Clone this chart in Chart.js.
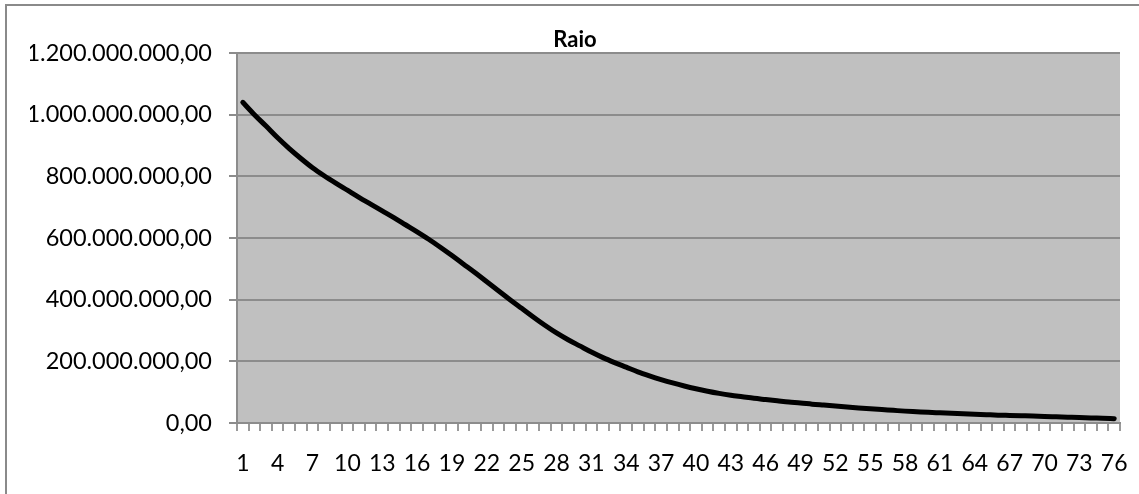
<!DOCTYPE html>
<html>
<head>
<meta charset="utf-8">
<title>Raio</title>
<script src="https://cdn.jsdelivr.net/npm/chart.js@4/dist/chart.umd.min.js"></script>
<style>
  html, body { margin: 0; padding: 0; background: #ffffff; }
  canvas { display: block; }
</style>
</head>
<body>
<canvas id="chart" width="1139" height="494"></canvas>
<script>
// Categories 1..76
const categories = [
  1, 2, 3, 4, 5, 6, 7, 8, 9, 10, 11, 12, 13, 14, 15, 16, 17, 18, 19, 20,
  21, 22, 23, 24, 25, 26, 27, 28, 29, 30, 31, 32, 33, 34, 35, 36, 37, 38, 39, 40,
  41, 42, 43, 44, 45, 46, 47, 48, 49, 50, 51, 52, 53, 54, 55, 56, 57, 58, 59, 60,
  61, 62, 63, 64, 65, 66, 67, 68, 69, 70, 71, 72, 73, 74, 75, 76
];

// Raio, in millions
const raioMillions = [
  1040, 1000, 963, 925, 890, 858, 828, 802, 778, 755,
  732, 710, 688, 666, 643, 620, 596, 570, 543, 515,
  487, 458, 429, 400, 372, 344, 317, 292, 270, 250,
  230, 212, 196, 181, 166, 153, 141, 130, 120, 111,
  103, 96, 90, 85, 80, 76, 72, 68, 65, 61,
  58, 55, 52, 49, 46, 43.5, 41, 38.5, 36.5, 34.5,
  33, 31.5, 30, 28.5, 27, 25.5, 24.5, 23.5, 22.5, 21,
  20, 19, 18, 16.5, 15.5, 14
];

// Y axis ticks
const yTicks = [0, 200000000, 400000000, 600000000, 800000000, 1000000000, 1200000000];

const raio = raioMillions.map(v => v * 1e6);

// Brazilian number format: 1.200.000.000,00
function formatBR(v) {
  const fixed = Math.round(v * 100) / 100;
  const parts = fixed.toFixed(2).split('.');
  const intPart = parts[0].replace(/\B(?=(\d{3})+(?!\d))/g, '.');
  return intPart + ',' + parts[1];
}

const FONT = 'Lato, "Open Sans", sans-serif';
const GRID = '#8c8c8c';

// White page with a grey frame round the chart
const framePlugin = {
  id: 'frame',
  beforeDraw(chart) {
    const ctx = chart.ctx;
    ctx.save();
    ctx.fillStyle = '#ffffff';
    ctx.fillRect(0, 0, chart.width, chart.height);
    ctx.strokeStyle = '#8a8a8a';
    ctx.lineWidth = 2;
    ctx.strokeRect(6, 5, chart.width + 20, chart.height + 20);
    ctx.restore();
  }
};

// Grey plot background
const plotBgPlugin = {
  id: 'plotBg',
  beforeDraw(chart) {
    const a = chart.chartArea;
    const ctx = chart.ctx;
    ctx.save();
    ctx.fillStyle = '#c0c0c0';
    ctx.fillRect(a.left, a.top, a.right - a.left, a.bottom - a.top);
    ctx.restore();
  }
};

new Chart(document.getElementById('chart'), {
  type: 'line',
  data: {
    labels: categories,
    datasets: [{
      label: 'Raio',
      data: raio,
      borderColor: '#000000',
      borderWidth: 5,
      borderCapStyle: 'round',
      borderJoinStyle: 'round',
      pointRadius: 0,
      fill: false,
      cubicInterpolationMode: 'monotone'
    }]
  },
  options: {
    responsive: false,
    animation: false,
    devicePixelRatio: 1,
    layout: { padding: { left: 30, right: 19, top: 0, bottom: 0 } },
    plugins: {
      legend: { display: false },
      tooltip: { enabled: false },
      title: {
        display: true,
        text: 'Raio',
        color: '#000000',
        font: { family: FONT, size: 22, weight: 'bold', lineHeight: 1.2 },
        padding: { top: 26.6, bottom: 0 }
      }
    },
    scales: {
      x: {
        type: 'category',
        offset: true,
        grid: {
          display: true,
          offset: true,
          drawOnChartArea: false,
          drawTicks: true,
          tickLength: 8,
          color: '#9a9a9a',
          lineWidth: 2
        },
        border: { display: true, color: GRID, width: 2 },
        ticks: {
          autoSkip: false,
          maxRotation: 0,
          minRotation: 0,
          padding: 19,
          color: '#000000',
          font: { family: FONT, size: 23 },
          callback: function (value, index) {
            return index % 3 === 0 ? String(categories[index]) : '';
          }
        },
        afterFit(scale) {
          scale.height = 71;
          scale.paddingLeft = 0;
          scale.paddingRight = 0;
        }
      },
      y: {
        min: 0,
        max: 1200000000,
        afterBuildTicks(scale) {
          scale.ticks = yTicks.map(v => ({ value: v }));
        },
        grid: {
          color: GRID,
          lineWidth: 2,
          drawTicks: true,
          tickLength: 8
        },
        border: { display: true, color: GRID, width: 2 },
        ticks: {
          padding: 17,
          color: '#000000',
          font: { family: FONT, size: 23.5 },
          callback: v => formatBR(v)
        },
        afterFit(scale) {
          scale.width = 207;
          scale.paddingTop = 0;
          scale.paddingBottom = 0;
        }
      }
    }
  },
  plugins: [framePlugin, plotBgPlugin]
});
</script>
</body>
</html>
